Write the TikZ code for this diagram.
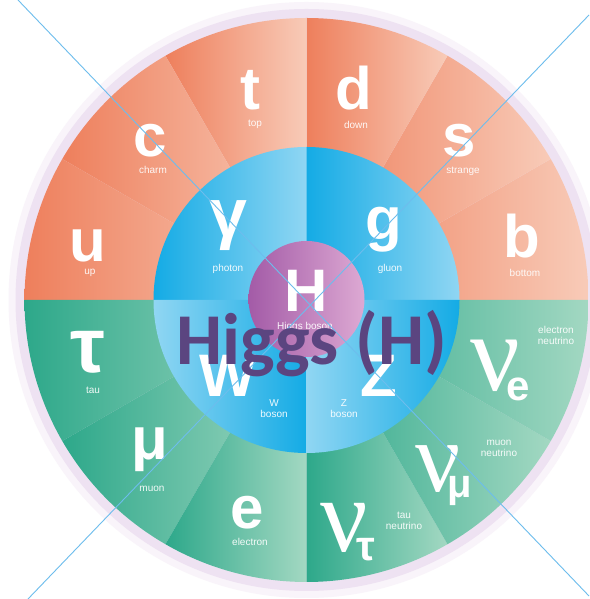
\documentclass[tikz,border=0pt]{standalone}
\usepackage{fontspec}
\setmainfont{Liberation Sans}
\newfontfamily\nufont{Liberation Serif}
\newfontfamily\higgsfont{Carlito}
\definecolor{ordark}{HTML}{EE7F5C}
\definecolor{orlight}{HTML}{F8CBB8}
\definecolor{grdark}{HTML}{2DA88A}
\definecolor{grlight}{HTML}{A3D8C2}
\definecolor{bldark}{HTML}{14ABE5}
\definecolor{bllight}{HTML}{90D6F3}
\definecolor{pudark}{HTML}{A35BA7}
\definecolor{pulight}{HTML}{DDA9D3}
\definecolor{ringA}{HTML}{F9F4FA}
\definecolor{ringB}{HTML}{EEE2F2}
\definecolor{higgscol}{HTML}{5B4580}
\definecolor{crossline}{HTML}{6DBDED}
\tikzset{
  bigletter/.style={text=white, font=\fontsize{60}{60}\selectfont\bfseries, inner sep=0pt, anchor=base},
  nuletter/.style={text=white, font=\nufont\fontsize{105}{105}\selectfont, inner sep=0pt, anchor=base},
  subletter/.style={text=white, font=\fontsize{42}{42}\selectfont\bfseries, inner sep=0pt, anchor=base},
  smalllabel/.style={text=white, text opacity=0.92, font=\fontsize{10}{11}\selectfont, inner sep=0pt, align=center},
  crossstyle/.style={draw=crossline, line width=0.9pt},
}
\begin{document}
\begin{tikzpicture}[x=1pt,y=1pt]
\useasboundingbox (0,0) rectangle (589,599);
\fill[white] (0,0) rectangle (589,599);
\coordinate (C) at (306.5,299);
% outer ring
\fill[ringA] (C) circle[radius=298pt];
\fill[ringB] (C) circle[radius=291pt];
% quark wedges (top)
\foreach \a in {0,30,...,150}{
  \shade[left color=ordark, right color=orlight] (C) -- ++(\a:282pt) arc[start angle=\a, end angle=\a+30, radius=282pt] -- cycle;
}
% lepton wedges (bottom)
\foreach \a in {180,210,...,330}{
  \shade[left color=grdark, right color=grlight] (C) -- ++(\a:282pt) arc[start angle=\a, end angle=\a+30, radius=282pt] -- cycle;
}
% boson quadrants
\foreach \a in {0,90}{
  \shade[left color=bldark, right color=bllight] (C) -- ++(\a:153pt) arc[start angle=\a, end angle=\a+90, radius=153pt] -- cycle;
}
\foreach \a in {180,270}{
  \shade[left color=bllight, right color=bldark] (C) -- ++(\a:153pt) arc[start angle=\a, end angle=\a+90, radius=153pt] -- cycle;
}
% Higgs disc
\shade[left color=pudark, right color=pulight] (306.5,300) circle[radius=58pt];

% quarks
\node[bigletter] (t) at (250,489) {t};
\node[smalllabel] (tl) at (255,475) {top};
\node[bigletter] (c) at (150,442) {c};
\node[smalllabel] (cl) at (153,429) {charm};
\node[bigletter] (u) at (88,337) {u};
\node[smalllabel] (ul) at (90,326) {up};
\node[bigletter] (d) at (354,489) {d};
\node[smalllabel] (dl) at (356,474) {down};
\node[bigletter] (s) at (459,442) {s};
\node[smalllabel] (sl) at (463,428) {strange};
\node[bigletter] (b) at (522,341) {b};
\node[smalllabel] (bl) at (525,326) {bottom};
% bosons
\node[bigletter, font=\fontsize{68}{68}\selectfont\bfseries] (gam) at (228,362) {γ};
\node[smalllabel] (gaml) at (228,330) {photon};
\node[bigletter] (g) at (384,359) {g};
\node[smalllabel] (gl) at (390,330) {gluon};
\node[bigletter] (H) at (306,287) {H};
\node[smalllabel] (Hl) at (305,272) {Higgs boson};
\node[bigletter] (W) at (228,202) {W};
\node[smalllabel] (Wl) at (274,190) {W\\boson};
\node[bigletter] (Z) at (379,202) {Z};
\node[smalllabel] (Zl) at (344,190) {Z\\boson};
% leptons
\node[bigletter, font=\fontsize{78}{78}\selectfont\bfseries] (tau) at (88,226) {τ};
\node[smalllabel] (taul) at (93,209) {tau};
\node[bigletter] (mu) at (150,139) {μ};
\node[smalllabel] (mul) at (152,110) {muon};
\node[bigletter] (e) at (247,70) {e};
\node[smalllabel] (el) at (250,57) {electron};
% neutrinos
\node[nuletter] (nut) at (344,47) {ν};
\node[subletter] (nuts) at (366,38) {τ};
\node[smalllabel] (nutl) at (404,78) {tau\\neutrino};
\node[nuletter, font=\nufont\fontsize{100}{100}\selectfont] (num) at (438,107) {ν};
\node[subletter, font=\fontsize{40}{40}\selectfont\bfseries] (nums) at (460,101) {μ};
\node[smalllabel] (numl) at (499,151) {muon\\neutrino};
\node[nuletter, font=\nufont\fontsize{110}{110}\selectfont] (nue) at (495,208) {ν};
\node[subletter] (nues) at (518,198) {e};
\node[smalllabel] (nuel) at (556,264) {electron\\neutrino};

% crossing lines
\coordinate (l1a) at (18,599);
\coordinate (l1b) at (589,3);
\coordinate (l2a) at (589,584);
\coordinate (l2b) at (28,0);
\draw[crossstyle] (l1a) -- (l1b);
\draw[crossstyle] (l2a) -- (l2b);

% title overlay
\node[text=higgscol, font=\higgsfont\bfseries\fontsize{73}{73}\selectfont, inner sep=0pt, anchor=base] (title) at (311.5,234) {Higgs (H)};
\end{tikzpicture}
\end{document}
